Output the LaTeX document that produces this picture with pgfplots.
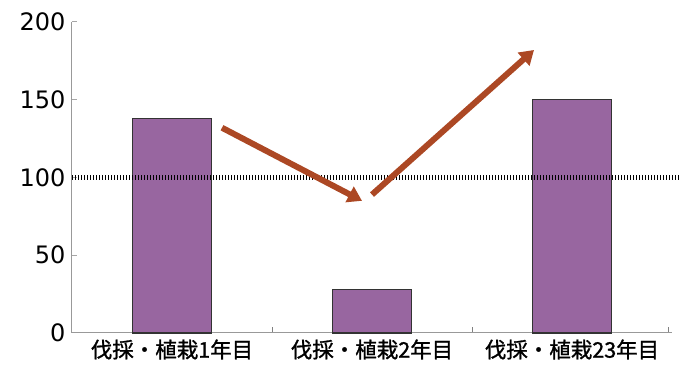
\documentclass[border=0pt]{standalone}
\usepackage{pgfplots}
\pgfplotsset{compat=1.18}
\usepackage{fontspec}
\setmainfont{DejaVu Sans}
\newfontfamily\cjk[FakeBold=1.2]{Noto Sans CJK JP}
\usetikzlibrary{arrows.meta}
\definecolor{barpurple}{RGB}{152,102,160}
\definecolor{arrowbrown}{RGB}{172,72,36}
\begin{document}
\begin{tikzpicture}
\useasboundingbox (-72pt,-41pt) rectangle (608pt,333pt);
\begin{axis}[
  at={(0pt,0pt)}, anchor=south west,
  scale only axis, width=600pt, height=311pt,
  xmin=-0.5, xmax=2.5, ymin=0, ymax=200,
  clip=false,
  axis lines*=left,
  axis line style={gray!80, line width=1pt},
  xtick={0,1,2},
  xticklabels={伐採・植栽1年目,伐採・植栽2年目,伐採・植栽23年目},
  xticklabel style={font=\cjk\fontsize{21.5}{21.5}\selectfont, yshift=-3pt},
  major x tick style={draw=none},
  minor xtick={0.5,1.5,2.48},
  minor x tick style={gray, line width=1pt},
  minor tick length=6pt,
  ytick={0,50,100,150,200},
  yticklabel style={font=\fontsize{24}{24}\selectfont, xshift=-3pt},
  /pgf/number format/assume math mode=true,
  major y tick style={gray!70, line width=1pt},
  major tick length=5pt,
  tick align=inside,
]
\addplot[ybar, bar width=79pt, fill=barpurple, draw=black!80, line width=1.4pt]
  coordinates {(0,138) (1,28) (2,150)};
\addplot[black, line width=5.5pt, dash pattern=on 1.3pt off 1.7pt]
  coordinates {(-0.5,100) (2.54,100)};
\addplot[arrowbrown, line width=6pt, -{Triangle[width=17pt,length=14pt]}]
  coordinates {(0.25,132) (0.95,85)};
\addplot[arrowbrown, line width=6pt, -{Triangle[width=17pt,length=14pt]}]
  coordinates {(1.0,89) (1.81,182)};
\end{axis}
\end{tikzpicture}
\end{document}
